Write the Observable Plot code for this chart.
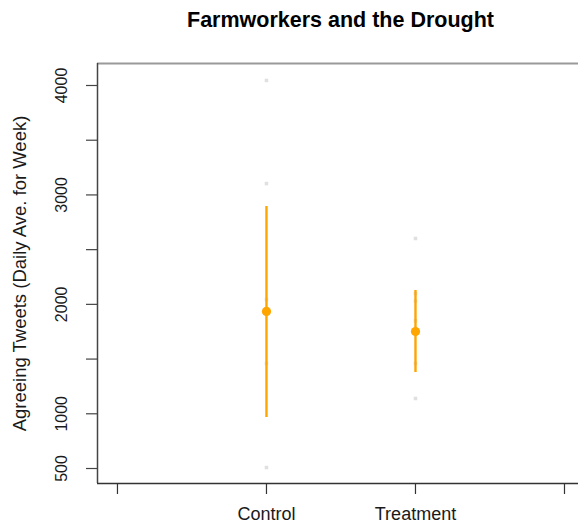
<!DOCTYPE html>
<html>
<head>
<meta charset="utf-8">
<script src="https://cdn.jsdelivr.net/npm/d3@7"></script>
<script src="https://cdn.jsdelivr.net/npm/@observablehq/plot@0.6"></script>
<style>
  html, body { margin: 0; padding: 0; background: #fff; overflow: hidden; }
  #chart svg { display: block; }
</style>
</head>
<body>
<div id="chart"></div>
<script>
// ---- data ----
const groups = ["Control", "Treatment"];
const groupPos = [1, 2];
const means = [1935, 1752];
const lower = [966, 1377];
const upper = [2894, 2127];
const rawControl = [4046, 3104, 2044, 1460, 509];
const rawTreatment = [2602, 2100, 2030, 1850, 1460, 1140];
const yTicks = [500, 1000, 1500, 2000, 2500, 3000, 3500, 4000];
const yLabels = [500, 1000, 2000, 3000, 4000];
const xTicks = [0, 1, 2, 3];

const summary = groups.map((g, i) => ({ g, x: groupPos[i], mean: means[i], lo: lower[i], hi: upper[i] }));
const raw = [
  ...rawControl.map(v => ({ x: groupPos[0], v })),
  ...rawTreatment.map(v => ({ x: groupPos[1], v }))
];

const font = "Liberation Sans, Arial, Helvetica, sans-serif";
const xDomain = [-0.134, 3.094];
const yDomain = [363, 4201];

const plot = Plot.plot({
  width: 578,
  height: 524,
  marginTop: 63,
  marginBottom: 41,
  marginLeft: 97,
  marginRight: 0,
  style: { fontFamily: font, background: "#fff", overflow: "visible" },
  x: { type: "linear", domain: xDomain },
  y: { type: "linear", domain: yDomain },
  marks: [
    // raw points
    Plot.dot(raw, { x: "x", y: "v", symbol: "square", r: 2, fill: "#e0e0e0", stroke: "none" }),
    // error bars
    Plot.ruleX(summary, { x: "x", y1: "lo", y2: "hi", stroke: "#FFA500", strokeWidth: 2.4 }),
    // means
    Plot.dot(summary, { x: "x", y: "mean", r: 4.6, fill: "#FFA500", stroke: "none" }),
    // frame
    Plot.ruleY([yDomain[1]], { stroke: "#9a9a9a", strokeWidth: 2 }),
    Plot.ruleX([xDomain[0]], { stroke: "#444", strokeWidth: 1.5 }),
    Plot.ruleY([yDomain[0]], { stroke: "#333", strokeWidth: 1.5 }),
    // y axis ticks
    Plot.axisY({ ticks: yTicks, tickSize: 11, tickFormat: () => "", stroke: "#444", strokeWidth: 1.2, label: null }),
    // y tick labels (rotated)
    Plot.text(yLabels, { y: d => d, text: d => String(d), frameAnchor: "left", dx: -36, rotate: -90, textAnchor: "middle", lineAnchor: "middle", fontSize: 16, fill: "#1a1a1a" }),
    // x axis ticks
    Plot.axisX({ ticks: xTicks, tickSize: 11, tickFormat: () => "", stroke: "#333", strokeWidth: 1.2, label: null }),
    // x tick labels
    Plot.text(summary, { x: "x", text: "g", frameAnchor: "bottom", dy: 31, lineAnchor: "middle", textAnchor: "middle", fontSize: 18, fill: "#1a1a1a" }),
    // y axis title
    Plot.text(["Agreeing Tweets (Daily Ave. for Week)"], { frameAnchor: "left", dx: -77, rotate: -90, textAnchor: "middle", lineAnchor: "middle", fontSize: 18.5, fill: "#1a1a1a" }),
    // title
    Plot.text(["Farmworkers and the Drought"], { frameAnchor: "top", dx: 2.5, dy: -43, textAnchor: "middle", lineAnchor: "middle", fontSize: 21.5, fontWeight: "bold", fill: "#000" })
  ]
});
document.getElementById("chart").appendChild(plot);
</script>
</body>
</html>
